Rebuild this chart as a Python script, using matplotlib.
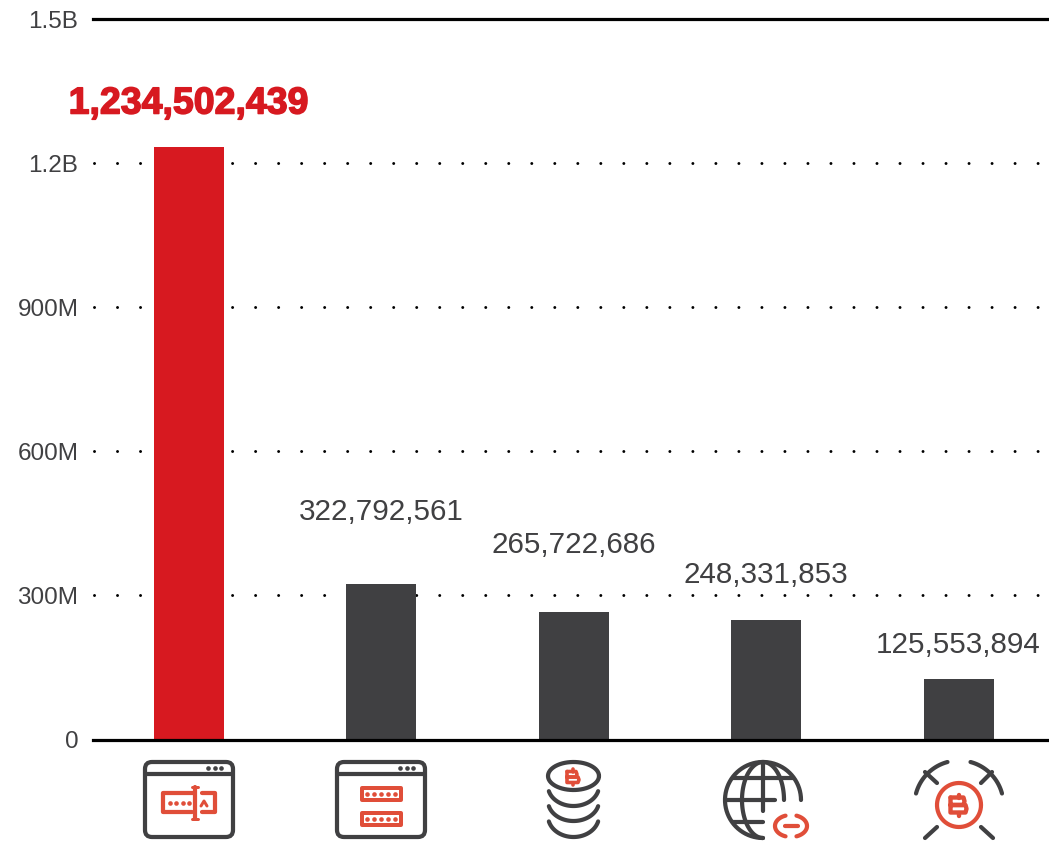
import numpy as np
import matplotlib
matplotlib.use('Agg')
import matplotlib.pyplot as plt
import matplotlib.patheffects as pe
from matplotlib.patches import FancyBboxPatch, Rectangle

plt.rcParams['font.family'] = ['Liberation Sans', 'DejaVu Sans']
plt.rcParams['lines.scale_dashes'] = False

values = [1234502439, 322792561, 265722686, 248331853, 125553894]
value_labels = ['1,234,502,439', '322,792,561', '265,722,686', '248,331,853', '125,553,894']
y_ticks = [0, 300e6, 600e6, 900e6, 1200e6, 1500e6]
y_tick_labels = ['0', '300M', '600M', '900M', '1.2B', '1.5B']
# how far each label sits above its bar, the spacing is uneven in the original
label_gaps_px = [43, 72, 67, 45, 34]

GREY = '#404042'
RED = '#d71920'
ICON_RED = '#e04e39'
W, H = 1049, 841
PX = 72 / 100  # one pixel in points

fig = plt.figure(figsize=(W / 100, H / 100), dpi=100)
ax = fig.add_axes([92.5 / W, (H - 739.5) / H, (W - 92.5) / W, (739.5 - 19) / H])
ax.set_xlim(-96 / 192.5, (W - 188.5) / 192.5)
ax.set_ylim(0, 1.5e9)

ax.set_axisbelow(True)
ax.yaxis.grid(True, color='black', linewidth=3 * PX, dash_capstyle='round',
              linestyle=(22 * PX, (0.01, 23 * PX)))
ax.xaxis.grid(False)
bar_colors = [RED, GREY, GREY, GREY, GREY]
ax.bar(range(5), values, width=70 / 192.5, color=bar_colors, zorder=2)

ax.axhline(0, color='black', linewidth=3.2 * PX, clip_on=False, zorder=3)
ax.axhline(1.5e9, color='black', linewidth=3.2 * PX, clip_on=False, zorder=3)

ax.set_yticks(y_ticks)
ax.set_yticklabels(y_tick_labels, fontsize=17.5, color=GREY)
ax.tick_params(axis='y', length=0, pad=14 * PX)
ax.set_xticks([])
for s in ax.spines.values():
    s.set_visible(False)

# value labels, first one is the highlighted one
px_to_val = 1.5e9 / (739.5 - 19)
ax.text(0, values[0] + label_gaps_px[0] * px_to_val, value_labels[0], ha='center', va='center',
        fontsize=27, fontweight='bold', color=RED,
        path_effects=[pe.withStroke(linewidth=1.1, foreground=RED)])
for i in range(1, 5):
    ax.text(i, values[i] + label_gaps_px[i] * px_to_val, value_labels[i], ha='center', va='center',
            fontsize=21.3, color=GREY)

# icons below the axis, drawn in pixel coords
ic = fig.add_axes([0, 0, 1, 1], facecolor='none')
ic.set_xlim(0, W)
ic.set_ylim(H, 0)
ic.axis('off')
LW = 4.2 * PX


def line(xs, ys, c=GREY, lw=LW):
    ic.plot(xs, ys, color=c, lw=lw, solid_capstyle='round', solid_joinstyle='round')


def arc(cx, cy, rx, ry, a0, a1, c=GREY, lw=LW):
    t = np.radians(np.linspace(a0, a1, 60))
    line(cx + rx * np.cos(t), cy - ry * np.sin(t), c, lw)


def dots(xs, y, c, s=4.6):
    ic.plot(xs, [y] * len(xs), 'o', color=c, ms=s * PX, mew=0)


def window(x0, x1, y0, y1):
    ic.add_patch(FancyBboxPatch((x0 + 7, y0 + 7), x1 - x0 - 14, y1 - y0 - 14,
                                boxstyle='round,pad=7,rounding_size=7', fc='none', ec=GREY, lw=LW))
    line([x0, x1], [y0 + 12, y0 + 12])
    dots([x1 - 25, x1 - 18, x1 - 12], y0 + 6, GREY)


def red_box(x0, y0, w, h):
    ic.add_patch(Rectangle((x0, y0), w, h, fc='none', ec=ICON_RED, lw=LW * 0.95, joinstyle='round'))


def bitcoin(cx, cy, w, h, lw):
    l, r = cx - w / 2, cx + w / 2
    t, b = cy - h / 2, cy + h / 2
    line([l, l, r - 1, r, r - 1, l], [t, b, b, (cy + b) / 2, cy, cy], ICON_RED, lw)
    line([l, r - 3, r - 2, r - 3, l], [t, t, (cy + t) / 2, cy, cy], ICON_RED, lw)
    line([cx, cx], [t - h * 0.2, t], ICON_RED, lw)
    line([cx, cx], [b, b + h * 0.2], ICON_RED, lw)


# icon 1: window with input and cursor
window(145, 233, 762, 837)
line([195, 163, 163, 192], [793, 793, 812, 812], ICON_RED)
line([202, 215, 215, 202], [793, 793, 812, 812], ICON_RED)
line([195, 195], [787, 819], ICON_RED)
line([192, 198], [787, 787], ICON_RED, 3 * PX)
line([192, 198], [819, 819], ICON_RED, 3 * PX)
dots([170, 176, 183, 189], 803, ICON_RED)
line([201, 204, 207], [806, 801, 806], ICON_RED, 3 * PX)

# icon 2: window with two fields
window(337, 425, 762, 837)
red_box(362, 788, 39, 12)
red_box(362, 813, 39, 12)
dots([367, 374, 381, 388, 395], 794, ICON_RED)
dots([367, 374, 381, 388, 395], 819, ICON_RED)

# icon 3: coin stack
arc(573.5, 776, 25.5, 14, 0, 360)
arc(573.5, 786, 25.5, 20, 195, 345)
arc(573.5, 801, 25.5, 20, 195, 345)
arc(573.5, 816, 25.5, 21, 195, 345)
bitcoin(573, 777, 12, 11, 3.6 * PX)

# icon 4: globe with link
gx, gy, gr = 763, 800, 38
arc(gx, gy, gr, gr, 0, 270)
arc(gx, gy, 21, gr, 90, 270)
arc(gx, gy, 21, gr, 0, 90)
line([gx, gx], [gy - gr, gy + 11])
line([733, 793], [778, 778])
line([726, 775], [800, 800])
line([733, 763], [822, 822])
arc(791, 826, 16, 11, 110, 250, ICON_RED)
arc(791, 826, 16, 11, -70, 70, ICON_RED)
line([785, 798], [826, 826], ICON_RED)

# icon 5: mining
mx, my, mr = 959, 805, 44.5
arc(mx, my, mr, mr, 105, 165)
arc(mx, my, mr, mr, 15, 75)
line([925, 937], [772, 783])
line([992, 981], [772, 783])
line([937, 925], [827, 838])
line([981, 993], [827, 838])
arc(mx, my, 22, 22, 0, 360, ICON_RED)
bitcoin(958.5, 805, 16, 15, 4.4 * PX)

fig.savefig('out.png', dpi=100)
